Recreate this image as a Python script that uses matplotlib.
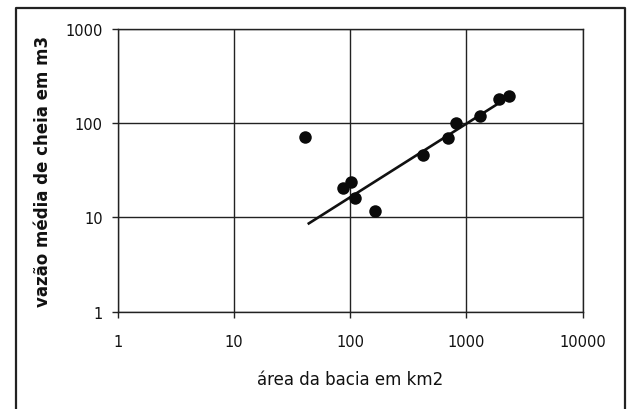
import matplotlib.pyplot as plt
from matplotlib.lines import Line2D

# area (km2) and mean flood flow (m3/s)
area = [41, 86, 102, 110, 164, 420, 695, 820, 1320, 1925, 2350]
flow = [72, 20.3, 23.5, 15.9, 11.7, 46, 69, 101, 118, 180, 192]

# trend line end points
trend_x = [43, 2400]
trend_y = [8.5, 195]

x_ticks = [1, 10, 100, 1000, 10000]
y_ticks = [1, 10, 100, 1000]

fig = plt.figure(figsize=(6.28, 4.10), dpi=100)
ax = fig.add_axes([118 / 628, 1 - 312.8 / 410, 464.5 / 628, 283 / 410])

ax.set_xscale('log')
ax.set_yscale('log')
ax.set_xlim(1, 10000)
ax.set_ylim(1, 1000)

ax.grid(True, which='major', color='#222222', linewidth=1.0)
ax.set_axisbelow(True)

ax.plot(trend_x, trend_y, color='#111111', linewidth=1.9, solid_capstyle='butt')
ax.plot(area, flow, 'o', color='#0a0a0a', markersize=9, markeredgewidth=0)

ax.set_xticks(x_ticks)
ax.set_xticklabels([str(v) for v in x_ticks])
ax.set_yticks(y_ticks)
ax.set_yticklabels([str(v) for v in y_ticks])
ax.minorticks_off()
ax.tick_params(direction='out', length=4, width=1, color='#222222',
               labelsize=10.5, pad=12, labelcolor='#111111')
ax.tick_params(axis='y', pad=7)
for s in ax.spines.values():
    s.set_color('#222222')
    s.set_linewidth(1.0)

ax.set_xlabel('área da bacia em km2', fontsize=12, labelpad=15, color='#111111')
ax.set_ylabel('vazão média de cheia em m3', fontsize=12, fontweight='bold',
              labelpad=9.5, color='#111111')

# frame around the whole picture (no bottom edge)
fx0, fx1, fy1 = 15.5 / 628, 624.5 / 628, 1 - 8.5 / 410
fig.add_artist(Line2D([fx0, fx0, fx1, fx1], [0, fy1, fy1, 0],
                      transform=fig.transFigure, color='#222222', linewidth=1.6))

fig.savefig('out.png', dpi=100)
